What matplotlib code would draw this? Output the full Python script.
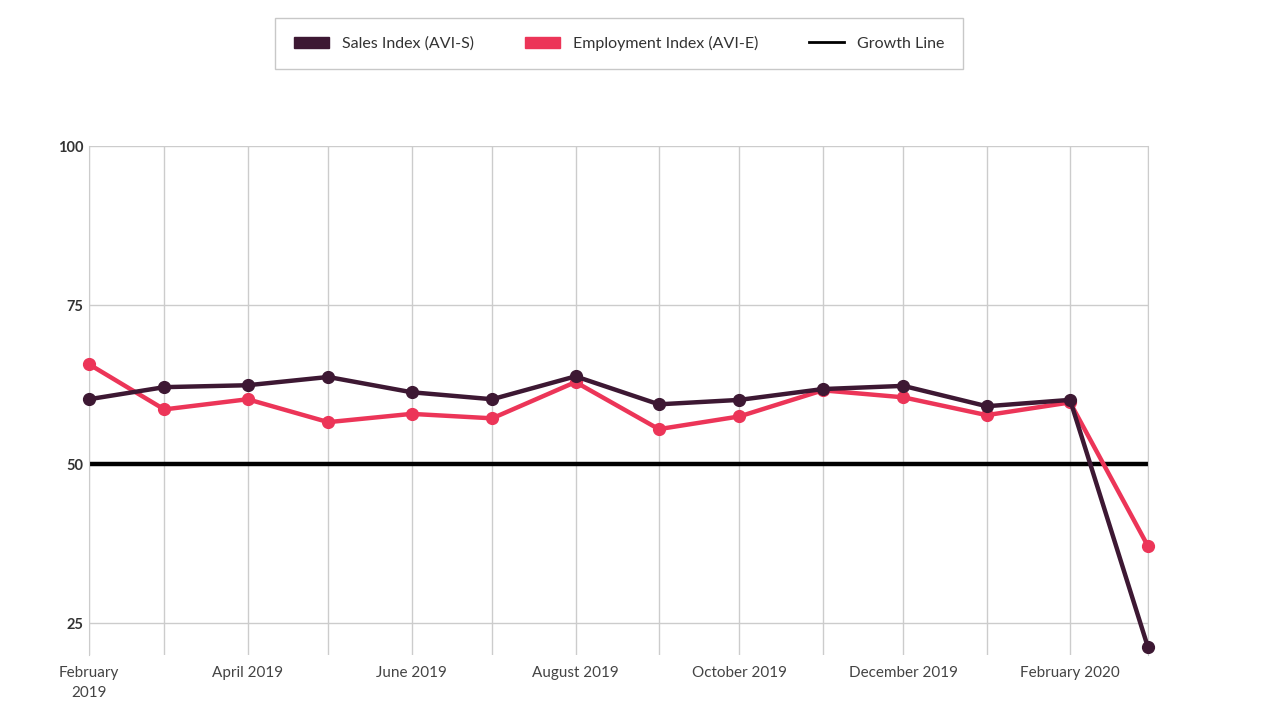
import matplotlib
matplotlib.use("Agg")
import matplotlib.pyplot as plt
from matplotlib.patches import Patch
from matplotlib.lines import Line2D
import pandas as pd

plt.rcParams['font.family'] = ['Lato', 'DejaVu Sans']

# Monthly index readings
months = pd.date_range("2019-02-01", "2020-03-01", freq="MS")
sales = [60.2, 62.1, 62.4, 63.7, 61.3, 60.2, 63.8, 59.4, 60.1, 61.8, 62.3, 59.1, 60.1, 21.2]
employment = [65.7, 58.6, 60.2, 56.6, 57.9, 57.2, 62.9, 55.5, 57.5, 61.6, 60.5, 57.7, 59.7, 37.1]
growth_level = 50

tick_months = months[::2]
tick_labels = ["February\n2019", "April 2019", "June 2019", "August 2019",
               "October 2019", "December 2019", "February 2020"]

sales_color = "#3d1833"
emp_color = "#ec3558"

fig = plt.figure(figsize=(12.61, 7.06), dpi=100)
ax = fig.add_axes([0.0706, 0.0722, 0.8398, 0.721])

ax.axhline(growth_level, color="black", lw=3.2, zorder=2)
ax.plot(months, sales, color=sales_color, lw=3.2, marker="o", ms=8.5, zorder=4, clip_on=False)
ax.plot(months, employment, color=emp_color, lw=3.2, marker="o", ms=8.5, zorder=3, clip_on=False)

ax.set_xlim(months[0], months[-1])
ax.set_ylim(20, 100)
ax.set_yticks([25, 50, 75, 100])
ax.set_yticklabels(["25", "50", "75", "100"], fontsize=10.5, fontweight="bold", color="#333333")

ax.set_xticks(months, minor=True)
ax.set_xticks(tick_months)
ax.set_xticklabels(tick_labels, fontsize=11, color="#444444", linespacing=1.5)

ax.grid(True, which="both", axis="x", color="#cccccc", lw=1)
ax.grid(True, which="major", axis="y", color="#cccccc", lw=1)
ax.tick_params(which="both", length=0, pad=8)
ax.tick_params(axis="y", pad=4)
for side in ["top", "bottom"]:
    ax.spines[side].set_visible(False)
for side in ["left", "right"]:
    ax.spines[side].set_color("#cccccc")
ax.set_axisbelow(True)

handles = [Patch(color=sales_color, label="Sales Index (AVI-S)"),
           Patch(color=emp_color, label="Employment Index (AVI-E)"),
           Line2D([], [], color="black", lw=2, label="Growth Line")]
leg = fig.legend(handles=handles, loc="center", bbox_to_anchor=(619 / 1261, 1 - 43.5 / 706),
                 ncol=3, frameon=True, fancybox=False, fontsize=11.5, handlelength=2.2,
                 handleheight=0.7, columnspacing=3.2, borderpad=1.15, handletextpad=0.8)
leg.get_frame().set_edgecolor("#bbbbbb")
leg.get_frame().set_linewidth(1)
for t in leg.get_texts():
    t.set_color("#333333")

fig.savefig("out.png", dpi=100)
